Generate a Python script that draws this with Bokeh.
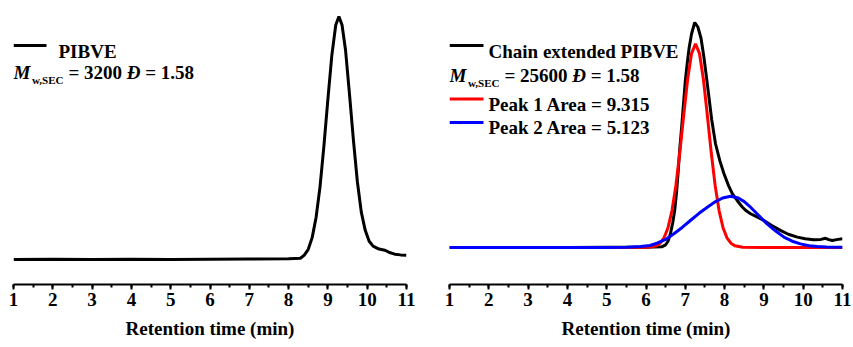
from bokeh.plotting import figure
from bokeh.layouts import row
from bokeh.models import Range1d, SingleIntervalTicker, Label
from bokeh.core.properties import value
from bokeh.embed import file_html
from bokeh.resources import INLINE

# ---------------- data ----------------
x_ticks = [1, 2, 3, 4, 5, 6, 7, 8, 9, 10, 11]

# Left panel: PIBVE
pibve_t = [1.0, 2.0, 3.0, 4.0, 5.0, 6.0, 7.0, 8.0, 8.3, 8.4, 8.5, 8.6, 8.7, 8.8, 8.9,
           9.0, 9.1, 9.2, 9.28, 9.36, 9.45, 9.55, 9.65, 9.75, 9.85, 9.95, 10.05, 10.15,
           10.3, 10.45, 10.55, 10.7, 10.85, 11.0]
pibve_v = [0.0, 0.1, 0.0, 0.1, 0.0, 0.1, 0.2, 0.3, 0.5, 1.8, 4.2, 9.0, 17.4, 30.0, 47.0,
           66.0, 84.0, 96.5, 100.0, 96.5, 86.0, 68.0, 49.0, 32.0, 19.5, 12.0, 7.5, 5.5,
           4.3, 3.8, 3.0, 2.2, 1.9, 1.7]

# Right panel: chain extended PIBVE (black)
ext_t = [1.0, 2.0, 3.0, 4.0, 5.0, 6.0, 6.4, 6.5, 6.56, 6.62, 6.68, 6.73, 6.78, 6.82, 6.86,
         6.9, 6.95, 7.0, 7.05, 7.1, 7.16, 7.24, 7.32, 7.4, 7.47, 7.54, 7.6, 7.67, 7.77,
         7.88, 7.98, 8.1, 8.2, 8.32, 8.45, 8.55, 8.66, 8.8, 9.0, 9.2, 9.42, 9.62, 9.85,
         10.05, 10.27, 10.45, 10.57, 10.65, 10.74, 10.85, 11.0]
ext_v = [0.0, 0.0, 0.0, 0.0, 0.1, 0.1, 0.3, 1.2, 2.8, 6.0, 11.0, 16.4, 25.0, 34.0, 44.0,
         52.0, 63.0, 74.0, 82.0, 89.0, 95.0, 100.0, 98.0, 93.0, 85.0, 75.5, 67.0, 57.0, 46.0,
         38.5, 33.0, 27.5, 23.8, 20.9, 18.0, 16.3, 15.0, 13.8, 12.0, 9.8, 7.6, 5.9, 4.6,
         3.9, 3.4, 3.6, 4.1, 3.5, 3.1, 3.5, 3.9]

# Peak 1 (red)
peak1_t = [1.0, 5.0, 6.06, 6.26, 6.36, 6.46, 6.56, 6.66, 6.76, 6.86, 6.96, 7.06, 7.16, 7.26,
           7.36, 7.46, 7.56, 7.66, 7.76, 7.86, 7.96, 8.06, 8.16, 8.26, 8.46, 9.0, 11.0]
peak1_v = [0.0, 0.0, 0.1, 0.8, 1.9, 4.3, 8.8, 16.3, 27.5, 42.2, 58.9, 74.8, 86.3, 90.5,
           86.3, 74.8, 58.9, 42.2, 27.5, 16.3, 8.8, 4.3, 1.9, 0.8, 0.1, 0.0, 0.0]

# Peak 2 (blue)
peak2_t = [1.0, 4.0, 5.0, 5.5, 5.86, 6.1, 6.28, 6.5, 6.71, 6.92, 7.13, 7.35, 7.56, 7.76,
           7.95, 8.15, 8.35, 8.5, 8.66, 8.87, 9.08, 9.3, 9.51, 9.72, 9.93, 10.15, 10.36,
           10.6, 11.0]
peak2_v = [0.0, 0.0, 0.05, 0.15, 0.4, 0.9, 1.9, 3.6, 6.1, 8.9, 12.0, 15.2, 17.9, 20.3,
           22.0, 22.8, 22.0, 20.4, 17.9, 14.2, 10.5, 7.3, 4.6, 2.8, 1.6, 0.8, 0.4,
           0.2, 0.1]

FONT = "Liberation Serif"
H = 347
TOP = 5
AXIS_PX = 284
PPM = 39.3  # pixels per minute


def make_fig(width, bl, br, base_px, ppu):
    p = figure(width=width, height=H, output_backend="svg", toolbar_location=None,
               min_border_left=bl, min_border_right=br, min_border_top=TOP,
               min_border_bottom=H - AXIS_PX,
               x_range=Range1d(1, 11),
               y_range=Range1d(-(AXIS_PX - base_px) / ppu, (base_px - TOP) / ppu),
               y_axis_location=None)
    p.xgrid.visible = False
    p.ygrid.visible = False
    p.outline_line_color = None
    ax = p.xaxis[0]
    ax.ticker = SingleIntervalTicker(interval=1, num_minor_ticks=2)
    ax.axis_line_width = 2
    ax.axis_line_color = "black"
    ax.major_tick_line_width = 2
    ax.minor_tick_line_width = 2
    ax.major_tick_out = 5
    ax.major_tick_in = 0
    ax.minor_tick_out = 3
    ax.minor_tick_in = 0
    ax.major_label_standoff = 3
    ax.major_label_text_font = FONT
    ax.major_label_text_font_size = "19px"
    ax.major_label_text_font_style = "bold"
    ax.major_label_text_color = "black"
    ax.axis_label = "Retention time (min)"
    ax.axis_label_text_font = FONT
    ax.axis_label_text_font_size = "19px"
    ax.axis_label_text_font_style = "bold"
    ax.axis_label_text_color = "black"
    ax.axis_label_standoff = 9
    return p


def lab(p, text, xpx, ypx, x0, base_px, ppu, size="19px", style="bold"):
    p.add_layout(Label(x=1 + (xpx - x0) / PPM, y=(base_px - ypx) / ppu, text=text,
                       text_font=FONT, text_font_size=size, text_font_style=style,
                       text_color="black", text_baseline="alphabetic", text_align="left"))


def legline(p, x1, x2, ypx, x0, base_px, ppu, color):
    yy = (base_px - ypx) / ppu
    p.line([1 + (x1 - x0) / PPM, 1 + (x2 - x0) / PPM], [yy, yy], line_color=color, line_width=3)


EM = 19.0

# ---------------- left panel ----------------
L0, LB, LP = 13, 259, 2.43
p1 = make_fig(426, 13, 20, LB, LP)
p1.line(pibve_t, pibve_v, line_color="black", line_width=3)
legline(p1, 13, 46, 45, L0, LB, LP, "black")
lab(p1, "PIBVE", 58, 50.5, L0, LB, LP)
lab(p1, "M", 13, 72, L0, LB, LP, style="bold italic")
lab(p1, "w,SEC", 31.5, 79.5, L0, LB, LP, size="11px")
xs = 68
lab(p1, "= 3200", xs, 72, L0, LB, LP)
xd = xs + 3.07 * EM
lab(p1, "Đ", xd, 72, L0, LB, LP, style="bold italic")
lab(p1, "= 1.58", xd + 0.722 * EM + 0.25 * EM, 72, L0, LB, LP)

# ---------------- right panel ----------------
R0, RB, RP = 449, 247, 2.25
p2 = make_fig(427, 23, 11, RB, RP)
p2.line(ext_t, ext_v, line_color="black", line_width=3)
p2.line(peak1_t, peak1_v, line_color="#FF0000", line_width=3)
p2.line(peak2_t, peak2_v, line_color="#0000FF", line_width=3)
legline(p2, 449, 483, 45, R0, RB, RP, "black")
lab(p2, "Chain extended PIBVE", 488, 51, R0, RB, RP)
lab(p2, "M", 449, 75, R0, RB, RP, style="bold italic")
lab(p2, "w,SEC", 467.5, 82, R0, RB, RP, size="11px")
xs2 = 504
lab(p2, "= 25600", xs2, 75, R0, RB, RP)
xd2 = xs2 + 3.57 * EM
lab(p2, "Đ", xd2, 75, R0, RB, RP, style="bold italic")
lab(p2, "= 1.58", xd2 + 0.722 * EM + 0.25 * EM, 75, R0, RB, RP)
legline(p2, 449, 483, 98.5, R0, RB, RP, "#FF0000")
lab(p2, "Peak 1 Area = 9.315", 488, 103.5, R0, RB, RP)
legline(p2, 449, 483, 122, R0, RB, RP, "#0000FF")
lab(p2, "Peak 2 Area = 5.123", 488, 127, R0, RB, RP)

layout = row(p1, p2, spacing=0)
open("out.html", "w").write(file_html(layout, INLINE))
